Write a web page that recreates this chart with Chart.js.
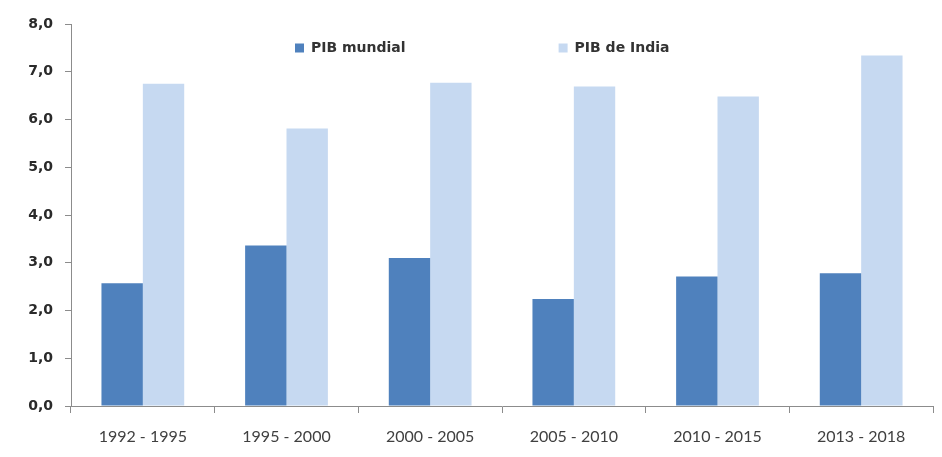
<!DOCTYPE html>
<html>
<head>
<meta charset="utf-8">
<script src="https://cdn.jsdelivr.net/npm/chart.js@4.4.1/dist/chart.umd.min.js"></script>
<style>
html,body{margin:0;padding:0;background:#ffffff;}
#wrap{width:942px;height:457px;}
</style>
</head>
<body>
<div id="wrap"><canvas id="c" width="942" height="457"></canvas></div>
<script>
// ---- data ----
const categories = ['1992 - 1995', '1995 - 2000', '2000 - 2005', '2005 - 2010', '2010 - 2015', '2013 - 2018'];
const pibMundial = [2.57, 3.36, 3.10, 2.24, 2.71, 2.78];
const pibIndia = [6.75, 5.81, 6.77, 6.69, 6.48, 7.34];
const seriesNames = ['PIB mundial', 'PIB de India'];
const yMin = 0, yMax = 8, yStep = 1;

// ---- styles ----
const DARK = '#4f81bd';
const LIGHT = '#c6d9f1';
const AXIS = '#8c8c8c';
const LEGEND_X = 295, LEGEND_Y = 41;
const LEGEND_PAD = 153;

const floatLegend = {
  id: 'floatLegend',
  beforeLayout(chart) {
    const l = chart.legend;
    if (l && !l._patched) {
      const orig = l.fit;
      l.fit = function () { orig.call(this); this._realH = this.height; this.height = 0; };
      l._patched = true;
    }
  },
  afterLayout(chart) {
    const l = chart.legend;
    if (!l) return;
    const P = l.options.labels.padding;
    l.left = LEGEND_X - P;
    l.right = chart.width;
    l.top = LEGEND_Y - P;
    l.bottom = l.top + (l._realH || 30) + 20;
    l.width = l.right - l.left;
    l.height = l.bottom - l.top;
  }
};

new Chart(document.getElementById('c'), {
  type: 'bar',
  data: {
    labels: categories,
    datasets: [
      { label: seriesNames[0], data: pibMundial, backgroundColor: DARK, borderWidth: 0 },
      { label: seriesNames[1], data: pibIndia, backgroundColor: LIGHT, borderWidth: 0 }
    ]
  },
  options: {
    responsive: false,
    devicePixelRatio: 1,
    animation: false,
    layout: { padding: { top: 24, right: 9, bottom: 0, left: 0 } },
    datasets: { bar: { categoryPercentage: 0.576, barPercentage: 1.0 } },
    plugins: {
      tooltip: { enabled: false },
      legend: {
        position: 'top',
        align: 'start',
        labels: {
          boxWidth: 9,
          boxHeight: 9,
          padding: LEGEND_PAD,
          color: '#333333',
          font: { family: 'DejaVu Sans', weight: 'bold', size: 14 }
        }
      }
    },
    scales: {
      x: {
        grid: { drawOnChartArea: false, drawTicks: true, tickLength: 7, color: AXIS, offset: true },
        border: { color: AXIS, width: 1 },
        ticks: { color: '#404040', padding: 14, font: { family: 'Lato', size: 16 } },
        afterFit(s) { s.height = 51; }
      },
      y: {
        min: yMin, max: yMax,
        grid: { drawOnChartArea: false, drawTicks: true, tickLength: 6, color: AXIS },
        border: { color: AXIS, width: 1 },
        ticks: {
          stepSize: yStep,
          color: '#2a2a2a',
          padding: 12,
          font: { family: 'DejaVu Sans', weight: 'bold', size: 14 },
          callback: v => Number(v).toFixed(1).replace('.', ',')
        },
        afterFit(s) { s.width = 71; }
      }
    }
  },
  plugins: [floatLegend]
});
</script>
</body>
</html>
